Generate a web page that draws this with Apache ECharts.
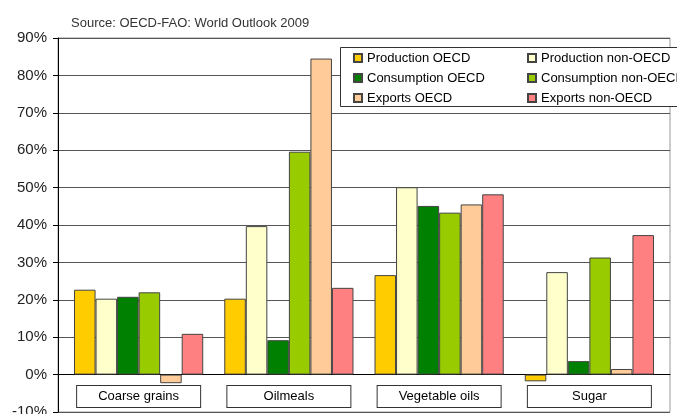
<!DOCTYPE html>
<html>
<head>
<meta charset="utf-8">
<script src="https://cdn.jsdelivr.net/npm/echarts@6/dist/echarts.min.js"></script>
<style>
  html, body { margin: 0; padding: 0; background: #fff; }
  #chart { width: 677px; height: 414px; }
</style>
</head>
<body>
<div id="chart"></div>
<script>
// values, in percent
var categories = ['Coarse grains', 'Oilmeals', 'Vegetable oils', 'Sugar']
var productionOECD = [22.7, 20.3, 26.6, -1.8]
var productionNonOECD = [20.3, 39.7, 50.1, 27.4]
var consumptionOECD = [20.8, 9.2, 45.1, 3.6]
var consumptionNonOECD = [22.0, 59.6, 43.3, 31.3]
var exportsOECD = [-2.3, 84.5, 45.5, 1.5]
var exportsNonOECD = [10.9, 23.2, 48.2, 37.3]

var seriesNames = ['Production OECD', 'Production non-OECD', 'Consumption OECD',
  'Consumption non-OECD', 'Exports OECD', 'Exports non-OECD']
var seriesData = [productionOECD, productionNonOECD, consumptionOECD,
  consumptionNonOECD, exportsOECD, exportsNonOECD]
var colors = ['#FFCC00', '#FFFFCC', '#008000', '#99CC00', '#FFCC99', '#FF8080']

var font = 'Liberation Sans, Arial, sans-serif'
var chart = echarts.init(document.getElementById('chart'))

// bars live in a slightly narrower grid (index 1), like the excel plot
var series = []
seriesData.forEach(function (item, index) {
  series.push({
    name: seriesNames[index],
    type: 'bar',
    xAxisIndex: 1,
    yAxisIndex: 1,
    data: item,
    barGap: '0%',
    barCategoryGap: '14%',
    itemStyle: {
      color: colors[index],
      borderColor: '#444',
      borderWidth: 1
    },
    emphasis: { disabled: true }
  })
})

var legendCommon = {
  orient: 'vertical',
  top: 46,
  icon: 'rect',
  itemWidth: 8,
  itemHeight: 8,
  itemGap: 6,
  z: 5,
  selectedMode: false,
  textStyle: { fontFamily: font, fontSize: 13, color: '#000', lineHeight: 14 }
}

chart.setOption({
  animation: false,
  color: colors,
  title: {
    text: 'Source: OECD-FAO: World Outlook 2009',
    left: 66,
    top: 12,
    textStyle: { fontFamily: font, fontSize: 13, fontWeight: 'normal', color: '#333' }
  },
  legend: [
    Object.assign({}, legendCommon, {
      left: 348,
      data: ['Production OECD', 'Consumption OECD', 'Exports OECD']
    }),
    Object.assign({}, legendCommon, {
      left: 522,
      data: ['Production non-OECD', 'Consumption non-OECD', 'Exports non-OECD']
    })
  ],
  graphic: [{
    type: 'rect',
    z: 4,
    shape: { x: 340.5, y: 47.5, width: 400, height: 59 },
    style: { fill: '#fff', stroke: '#333', lineWidth: 1 }
  }],
  grid: [{
    left: 58,
    right: 7,
    top: 38,
    bottom: 2,
    outerBoundsMode: 'none',
    show: true,
    borderColor: '#999',
    borderWidth: 1
  }, {
    left: 63.5,
    right: 12.5,
    top: 38,
    bottom: 2,
    outerBoundsMode: 'none'
  }],
  xAxis: [{
    type: 'category',
    gridIndex: 0,
    data: categories,
    axisLine: { onZero: true, lineStyle: { color: '#000', width: 1 } },
    axisTick: { show: false },
    axisLabel: { show: false }
  }, {
    type: 'category',
    gridIndex: 1,
    data: categories,
    axisLine: { show: false },
    axisTick: { show: false },
    axisLabel: {
      inside: true,
      fontFamily: font,
      fontSize: 13,
      color: '#000',
      margin: 5,
      width: 123,
      align: 'center',
      padding: [3, 0, 3, 0],
      lineHeight: 15,
      borderColor: '#333',
      borderWidth: 1,
      backgroundColor: '#fff'
    }
  }],
  yAxis: [{
    type: 'value',
    gridIndex: 0,
    min: -10,
    max: 90,
    interval: 10,
    axisLine: { show: true, lineStyle: { color: '#000' } },
    axisTick: { show: true, length: 5, lineStyle: { color: '#000' } },
    axisLabel: {
      formatter: '{value}%',
      fontFamily: font,
      fontSize: 15,
      color: '#222',
      margin: 11
    },
    splitLine: { lineStyle: { color: '#555', width: 1 } }
  }, {
    type: 'value',
    gridIndex: 1,
    min: -10,
    max: 90,
    interval: 10,
    show: false
  }],
  series: series
})
</script>
</body>
</html>
